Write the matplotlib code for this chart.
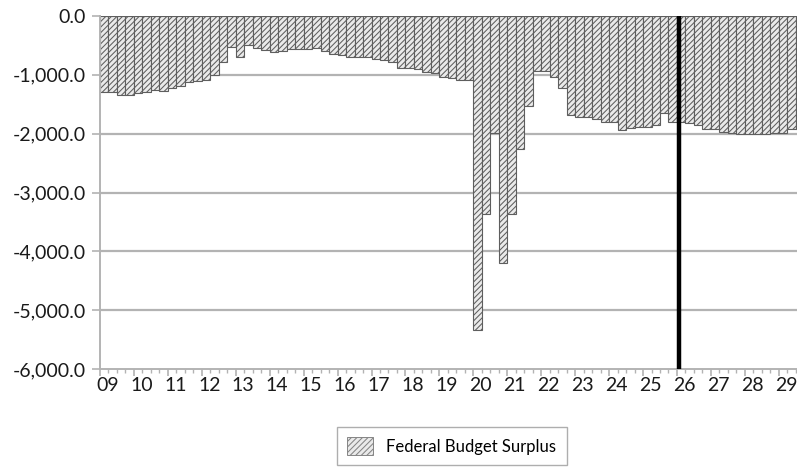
import matplotlib
matplotlib.use("Agg")
import matplotlib.pyplot as plt
from matplotlib.transforms import blended_transform_factory
from matplotlib.ticker import FuncFormatter, MultipleLocator
import matplotlib.patches as mpatches

# Quarterly federal budget surplus, 2009Q1 onward (billions)
surplus = [
    -1290, -1290, -1345, -1345,   # 2009
    -1315, -1290, -1260, -1275,   # 2010
    -1230, -1190, -1120, -1100,   # 2011
    -1090, -995, -780, -520,      # 2012
    -700, -495, -550, -580,       # 2013
    -610, -600, -561, -561,       # 2014
    -565, -550, -600, -640,       # 2015
    -665, -690, -692, -705,       # 2016
    -735, -750, -777, -890,       # 2017
    -890, -905, -960, -975,       # 2018
    -1040, -1060, -1088, -1090,   # 2019
    -5340, -3373, -1985, -4195,   # 2020
    -3373, -2268, -1530, -935,    # 2021
    -935, -1032, -1219, -1684,    # 2022
    -1723, -1723, -1752, -1797,   # 2023
    -1810, -1939, -1910, -1893,   # 2024
    -1893, -1854, -1655, -1797,   # 2025
    -1797, -1815, -1854, -1927,   # 2026
    -1927, -1967, -1984, -2007,   # 2027
    -2007, -2007, -2007, -1984,   # 2028
    -1984, -1927, -1927, -1927,   # 2029
]
year_labels = ["09", "10", "11", "12", "13", "14", "15", "16", "17", "18",
               "19", "20", "21", "22", "23", "24", "25", "26", "27", "28", "29"]
forecast_start = 68.25   # position (in quarters from 2009Q1) of vertical marker
series_name = "Federal Budget Surplus"

plt.rcParams['font.family'] = ['Lato', 'DejaVu Sans']
plt.rcParams['hatch.linewidth'] = 0.75
plt.rcParams['hatch.color'] = '#858585'

W, H = 797, 468
fig = plt.figure(figsize=(W / 100, H / 100), dpi=100)
left_px, top_px, bottom_px = 100, 16, 369
ax = fig.add_axes([left_px / W, 1 - bottom_px / H, 1 - left_px / W, (bottom_px - top_px) / H])

grid_col = '#b3b3b3'
for v in range(-5000, 1, 1000):
    ax.axhline(v, color=grid_col, lw=1.6, zorder=0)

x = list(range(len(surplus)))
ax.bar(x, surplus, width=1.0, align='edge', facecolor='#eaeaea',
       edgecolor='#5e5e5e', linewidth=0.8, hatch='//////', zorder=2)

ax.axvline(forecast_start, color='black', lw=3.2, zorder=3)

for s in ['top', 'right']:
    ax.spines[s].set_visible(False)
for s in ['left', 'bottom']:
    ax.spines[s].set_color(grid_col)
    ax.spines[s].set_linewidth(1.4)

ax.yaxis.set_major_locator(MultipleLocator(1000))
ax.yaxis.set_major_formatter(FuncFormatter(lambda v, p: f"{v:,.1f}"))
ax.tick_params(axis='y', length=6, width=1.2, color=grid_col, labelsize=14,
               labelcolor='#1a1a1a', pad=4)

ax.set_xticks([4 * k for k in range(len(year_labels) + 1)])
ax.set_xticks(range(len(surplus) + 4), minor=True)
ax.set_xticklabels([])
ax.tick_params(axis='x', which='major', length=5, width=1.2, color=grid_col)
ax.tick_params(axis='x', which='minor', length=3, width=1.0, color=grid_col)

qpx = 8.485
ax.set_xlim(0, (W - left_px) / qpx)
ax.set_ylim(-6000, 0)

trans = blended_transform_factory(ax.transData, ax.transAxes)
for k, lab in enumerate(year_labels):
    ax.text(4 * k + 0.88, -0.024, lab, transform=trans, ha='center', va='top',
            fontsize=14, color='#1a1a1a', clip_on=False)

handle = mpatches.Patch(facecolor='#eaeaea', edgecolor='#858585', hatch='//////',
                        linewidth=0.7, label=series_name)
leg = fig.legend(handles=[handle], loc='center', bbox_to_anchor=(451.5 / W, 1 - 446 / H),
                 fontsize=12, frameon=True, fancybox=False, handlelength=1.6,
                 handleheight=1.2, borderpad=0.6, handletextpad=0.8)
leg.get_frame().set_edgecolor('#9a9a9a')
leg.get_frame().set_linewidth(1.0)

fig.savefig("out.png", dpi=100)
